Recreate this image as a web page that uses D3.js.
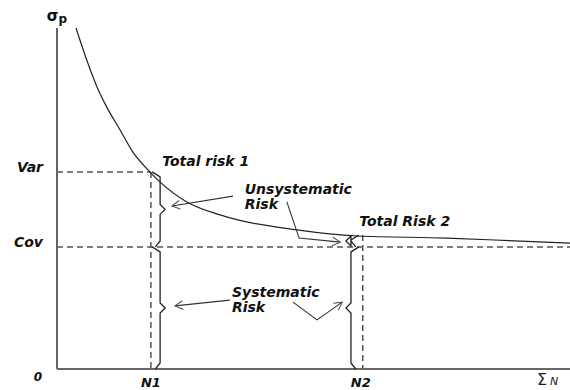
<!DOCTYPE html>
<html>
<head>
<meta charset="utf-8">
<script src="https://cdn.jsdelivr.net/npm/d3@7"></script>
<style>
  html, body { margin: 0; padding: 0; background: #fff; }
  svg { display: block; }
  .lbl { font-family: "DejaVu Sans", Verdana, sans-serif; font-weight: bold; font-style: italic; fill: #111; }
</style>
</head>
<body>
<svg id="chart" width="570" height="390"></svg>
<script>
/* Portfolio risk vs number of securities: total risk falls toward the
   systematic (covariance) level as N grows. Units are arbitrary 0..100. */

// curve sigma_p(N)
var curveN     = [3.7, 5.8, 7.8, 9.7, 12.3, 14.8, 18.1, 20.1, 25.3, 31.8, 46.8, 58.5, 76.0, 90.3, 100];
var curveSigma = [100, 90.6, 82.7, 76.8, 70.1, 63.6, 57.8, 54.8, 49.0, 45.2, 40.8, 39.0, 38.4, 37.5, 36.9];

// reference levels
var yTickNames  = ['Var', 'Cov'];
var yTickValues = [57.8, 35.8];
var xTickNames  = ['N1', 'N2'];
var xTickValues = [18.3, 59.6];

// braces: x, top, bottom, cusp side (+1 right / -1 left), hook side
var braceX    = [20.1, 20.1, 57.3, 57.3];
var braceTop  = [57.8, 35.8, 39.3, 35.8];
var braceBot  = [35.8, 0, 35.8, 0];
var braceCusp = [1, 1, -1, -1];
var braceHook = [-1, -1, 1, 1];

// arrow polylines (last point gets the head)
var arrowPaths = [
  [[34.3, 50.7], [22.4, 47.8]],
  [[44.8, 49.0], [47.2, 38.4], [55.2, 37.2]],
  [[33.7, 20.2], [23.0, 18.5]],
  [[46.0, 19.6], [50.7, 14.4], [55.6, 19.6]]
];

// annotation text, anchored at left/baseline
var noteText = ['Total risk 1', 'Unsystematic', 'Risk', 'Total Risk 2', 'Systematic', 'Risk'];
var noteX    = [20.5, 36.6, 36.6, 58.9, 34.1, 34.1];
var noteY    = [59.5, 51.3, 46.9, 41.9, 21.1, 16.7];

(function () {
  'use strict';
  var svg = d3.select('#chart');
  var x0 = 57, x1 = 570, yTop = 28, yBot = 369;

  var x = d3.scaleLinear().domain([0, 100]).range([x0, x1]);
  var y = d3.scaleLinear().domain([0, 100]).range([yBot, yTop]);

  /* dashed guides */
  var dash = svg.append('g')
    .attr('stroke', '#555').attr('stroke-width', 1.5).attr('stroke-dasharray', '6,4').attr('fill', 'none');
  // Var ends at N1, Cov runs across
  dash.append('line').attr('x1', x(0)).attr('x2', x(xTickValues[0]))
    .attr('y1', y(yTickValues[0])).attr('y2', y(yTickValues[0]));
  dash.append('line').attr('x1', x(0)).attr('x2', x(100))
    .attr('y1', y(yTickValues[1])).attr('y2', y(yTickValues[1]));
  // N1 from Var down, N2 from curve down
  dash.append('line').attr('x1', x(xTickValues[0])).attr('x2', x(xTickValues[0]))
    .attr('y1', y(yTickValues[0])).attr('y2', y(0));
  dash.append('line').attr('x1', x(xTickValues[1])).attr('x2', x(xTickValues[1]))
    .attr('y1', y(braceTop[2])).attr('y2', y(0));

  /* axes */
  var ax = svg.append('g').attr('stroke', '#666').attr('stroke-width', 2);
  ax.append('line').attr('x1', x(0)).attr('x2', x(0)).attr('y1', y(100)).attr('y2', y(0));
  ax.append('line').attr('x1', x(0)).attr('x2', x(100)).attr('y1', y(0)).attr('y2', y(0));

  /* risk curve */
  var pts = curveN.map(function (n, i) { return [n, curveSigma[i]]; });
  svg.append('path')
    .datum(pts)
    .attr('d', d3.line().x(function (d) { return x(d[0]); }).y(function (d) { return y(d[1]); })
      .curve(d3.curveMonotoneX))
    .attr('fill', 'none').attr('stroke', '#222').attr('stroke-width', 1.2);

  /* braces */
  var line = d3.line();
  braceX.forEach(function (bx, i) {
    var px = x(bx), t = y(braceTop[i]), b = y(braceBot[i]);
    var m = (t + b) / 2, h = braceHook[i] * 8, c = braceCusp[i] * 5;
    var p = [[px + h, t], [px, t + 5], [px, m - 5], [px + c, m], [px, m + 5], [px, b - 6], [px + h * 0.6, b]];
    svg.append('path').attr('d', line(p))
      .attr('fill', 'none').attr('stroke', '#222').attr('stroke-width', 1.3);
  });

  /* arrows */
  arrowPaths.forEach(function (a) {
    var p = a.map(function (d) { return [x(d[0]), y(d[1])]; });
    svg.append('path').attr('d', line(p))
      .attr('fill', 'none').attr('stroke', '#333').attr('stroke-width', 1.1);
    var e = p[p.length - 1], s = p[p.length - 2];
    var ang = Math.atan2(e[1] - s[1], e[0] - s[0]), L = 9, w = 0.5;
    var head = [
      [e[0] - L * Math.cos(ang - w), e[1] - L * Math.sin(ang - w)],
      e,
      [e[0] - L * Math.cos(ang + w), e[1] - L * Math.sin(ang + w)]
    ];
    svg.append('path').attr('d', line(head))
      .attr('fill', 'none').attr('stroke', '#555').attr('stroke-width', 1.1);
  });

  /* tick labels */
  yTickNames.forEach(function (t, i) {
    svg.append('text').attr('class', 'lbl')
      .attr('x', 43).attr('y', y(yTickValues[i]))
      .attr('text-anchor', 'end').style('font-size', '14px').text(t);
  });
  svg.append('text').attr('class', 'lbl')
    .attr('x', 42).attr('y', 381).attr('text-anchor', 'end').style('font-size', '12px').text('0');
  xTickNames.forEach(function (t, i) {
    svg.append('text').attr('class', 'lbl')
      .attr('x', x(xTickValues[i]) + (i ? -2 : 0)).attr('y', 387)
      .attr('text-anchor', 'middle').style('font-size', '13px').text(t);
  });

  /* axis titles */
  var sp = svg.append('text').attr('class', 'lbl').attr('x', x(0)).attr('y', 21)
    .attr('text-anchor', 'middle').style('font-style', 'normal').style('font-size', '15px');
  sp.append('tspan').text('\u03c3');
  sp.append('tspan').attr('dy', 2).style('font-size', '12px').text('p');

  var sn = svg.append('text').attr('x', 537).attr('y', 385)
    .style('font-family', '"DejaVu Sans", sans-serif').style('fill', '#222');
  sn.append('tspan').style('font-size', '16px').text('\u03a3');
  sn.append('tspan').attr('dx', 3).style('font-size', '11px').style('font-style', 'italic').text('N');

  /* annotations */
  noteText.forEach(function (t, i) {
    svg.append('text').attr('class', 'lbl')
      .attr('x', x(noteX[i])).attr('y', y(noteY[i]))
      .style('font-size', '14px').text(t);
  });
})();
</script>
</body>
</html>
